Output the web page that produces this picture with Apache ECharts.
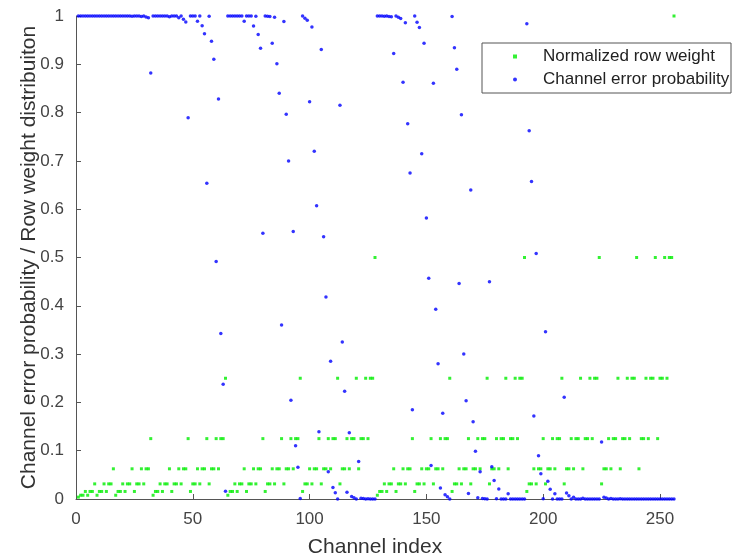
<!DOCTYPE html>
<html>
<head>
<meta charset="utf-8">
<script src="https://cdn.jsdelivr.net/npm/echarts@6/dist/echarts.min.js"></script>
<style>
html,body{margin:0;padding:0;background:#fff;}
#chart{width:732px;height:559px;}
</style>
</head>
<body>
<div id="chart"></div>
<script>
// Channel index (x values)
const channelIndex = [
  1,2,3,4,5,6,7,8,9,10,11,12,13,14,15,16,
  17,18,19,20,21,22,23,24,25,26,27,28,29,30,31,32,
  33,34,35,36,37,38,39,40,41,42,43,44,45,46,47,48,
  49,50,51,52,53,54,55,56,57,58,59,60,61,62,63,64,
  65,66,67,68,69,70,71,72,73,74,75,76,77,78,79,80,
  81,82,83,84,85,86,87,88,89,90,91,92,93,94,95,96,
  97,98,99,100,101,102,103,104,105,106,107,108,109,110,111,112,
  113,114,115,116,117,118,119,120,121,122,123,124,125,126,127,128,
  129,130,131,132,133,134,135,136,137,138,139,140,141,142,143,144,
  145,146,147,148,149,150,151,152,153,154,155,156,157,158,159,160,
  161,162,163,164,165,166,167,168,169,170,171,172,173,174,175,176,
  177,178,179,180,181,182,183,184,185,186,187,188,189,190,191,192,
  193,194,195,196,197,198,199,200,201,202,203,204,205,206,207,208,
  209,210,211,212,213,214,215,216,217,218,219,220,221,222,223,224,
  225,226,227,228,229,230,231,232,233,234,235,236,237,238,239,240,
  241,242,243,244,245,246,247,248,249,250,251,252,253,254,255,256
];

// Normalized row weight (green)
const rowWeight = [
  .0039,.0078,.0078,.0156,.0078,.0156,.0156,.0313,.0078,.0156,.0156,.0313,.0156,.0313,.0313,.0625,
  .0078,.0156,.0156,.0313,.0156,.0313,.0313,.0625,.0156,.0313,.0313,.0625,.0313,.0625,.0625,.125,
  .0078,.0156,.0156,.0313,.0156,.0313,.0313,.0625,.0156,.0313,.0313,.0625,.0313,.0625,.0625,.125,
  .0156,.0313,.0313,.0625,.0313,.0625,.0625,.125,.0313,.0625,.0625,.125,.0625,.125,.125,.25,
  .0078,.0156,.0156,.0313,.0156,.0313,.0313,.0625,.0156,.0313,.0313,.0625,.0313,.0625,.0625,.125,
  .0156,.0313,.0313,.0625,.0313,.0625,.0625,.125,.0313,.0625,.0625,.125,.0625,.125,.125,.25,
  .0156,.0313,.0313,.0625,.0313,.0625,.0625,.125,.0313,.0625,.0625,.125,.0625,.125,.125,.25,
  .0313,.0625,.0625,.125,.0625,.125,.125,.25,.0625,.125,.125,.25,.125,.25,.25,.5,
  .0078,.0156,.0156,.0313,.0156,.0313,.0313,.0625,.0156,.0313,.0313,.0625,.0313,.0625,.0625,.125,
  .0156,.0313,.0313,.0625,.0313,.0625,.0625,.125,.0313,.0625,.0625,.125,.0625,.125,.125,.25,
  .0156,.0313,.0313,.0625,.0313,.0625,.0625,.125,.0313,.0625,.0625,.125,.0625,.125,.125,.25,
  .0313,.0625,.0625,.125,.0625,.125,.125,.25,.0625,.125,.125,.25,.125,.25,.25,.5,
  .0156,.0313,.0313,.0625,.0313,.0625,.0625,.125,.0313,.0625,.0625,.125,.0625,.125,.125,.25,
  .0313,.0625,.0625,.125,.0625,.125,.125,.25,.0625,.125,.125,.25,.125,.25,.25,.5,
  .0313,.0625,.0625,.125,.0625,.125,.125,.25,.0625,.125,.125,.25,.125,.25,.25,.5,
  .0625,.125,.125,.25,.125,.25,.25,.5,.125,.25,.25,.5,.25,.5,.5,1
];

// Channel error probability (blue)
const errorProb = [
  1,1,1,1,1,1,1,1,1,1,1,1,1,1,1,0.9998,
  1,1,1,1,1,1,1,0.9995,1,1,1,0.999,1,0.9981,0.9963,0.8822,
  1,1,1,1,1,1,1,0.9983,1,1,1,0.9966,1,0.9934,0.9876,0.7895,
  1,1,1,0.9893,0.9999,0.9798,0.9633,0.6536,0.9993,0.9478,0.9107,0.4917,0.8281,0.3427,0.2375,0.0161,
  1,1,1,1,1,1,1,0.9893,1,0.9999,0.9999,0.9795,0.9996,0.9619,0.9334,0.5503,
  1,0.9996,0.9992,0.9438,0.9974,0.901,0.8401,0.3602,0.9885,0.7967,0.6996,0.2042,0.5539,0.1103,0.0657,0.0011,
  1,0.9955,0.9913,0.8225,0.9771,0.7202,0.6072,0.1393,0.9307,0.5429,0.4181,0.0563,0.2852,0.0239,0.0129,0,
  0.8151,0.3249,0.223,0.014,0.1371,0.005,0.0026,0,0.0774,0.0016,0.0008,0,0.0004,0,0,0,
  1,1,1,0.9996,1,0.9992,0.9984,0.9226,1,0.9974,0.995,0.863,0.986,0.777,0.6751,0.1849,
  1,0.9871,0.9761,0.7148,0.9437,0.5819,0.4571,0.0693,0.8607,0.3928,0.2798,0.0229,0.1775,0.0087,0.0045,0,
  0.9989,0.9343,0.8897,0.4461,0.7958,0.3004,0.2033,0.0115,0.6398,0.1599,0.099,0.0026,0.0562,0.0008,0.0004,0,
  0.4497,0.0666,0.0381,0.0004,0.0205,0.0001,0.0001,0,0.0107,0,0,0,0,0,0,0,
  0.9839,0.7625,0.6573,0.1719,0.5083,0.0893,0.0522,0.0007,0.3464,0.0367,0.0202,0.0001,0.0107,0,0,0,
  0.2105,0.0124,0.0066,0,0.0034,0,0,0,0.0017,0,0,0,0,0,0,0,
  0.1178,0.0037,0.0019,0,0.001,0,0,0,0.0005,0,0,0,0,0,0,0,
  0.0002,0,0,0,0,0,0,0,0,0,0,0,0,0,0,0
];

const xTicks = [0, 50, 100, 150, 200, 250];
const yTicks = [0, 0.1, 0.2, 0.3, 0.4, 0.5, 0.6, 0.7, 0.8, 0.9, 1];
const seriesNames = ['Normalized row weight', 'Channel error probability'];
const xTitle = 'Channel index';
const yTitle = 'Channel error probability / Row weight distribuiton';

const FONT = '"Liberation Sans", Arial, sans-serif';
const AXIS_COLOR = '#555';
const LABEL_COLOR = '#444';

const chart = echarts.init(document.getElementById('chart'), null, {renderer: 'canvas'});
chart.setOption({
  backgroundColor: '#fff',
  animation: false,
  grid: {left: 76, right: 58, top: 16, bottom: 60, containLabel: false, outerBoundsMode: 'none'},
  legend: {
    orient: 'vertical',
    left: 482,
    top: 43,
    padding: [4, 0, 4, 31],
    itemWidth: 4,
    itemHeight: 4,
    itemGap: 4,
    borderColor: '#555',
    borderWidth: 1,
    backgroundColor: '#fff',
    data: [
      {name: seriesNames[0], icon: 'rect'},
      {name: seriesNames[1], icon: 'circle'}
    ],
    textStyle: {
      fontFamily: FONT, fontSize: 17, color: '#222', lineHeight: 19,
      padding: [0, 0, 0, 21], width: 188
    }
  },
  xAxis: {
    type: 'value', min: 0, max: 256,
    name: xTitle, nameLocation: 'middle', nameGap: 38, nameMoveOverlap: false,
    nameTextStyle: {fontFamily: FONT, fontSize: 21, color: '#333'},
    splitLine: {show: false},
    axisLine: {show: true, onZero: false, lineStyle: {color: AXIS_COLOR, width: 1}},
    axisTick: {show: true, inside: true, length: 5, lineStyle: {color: AXIS_COLOR}, customValues: xTicks},
    axisLabel: {fontFamily: FONT, fontSize: 17, color: LABEL_COLOR, margin: 12, customValues: xTicks}
  },
  yAxis: {
    type: 'value', min: 0, max: 1, interval: 0.1,
    name: yTitle, nameLocation: 'middle', nameGap: 36, nameMoveOverlap: false,
    nameTextStyle: {fontFamily: FONT, fontSize: 21, color: '#333'},
    splitLine: {show: false},
    axisLine: {show: true, onZero: false, lineStyle: {color: AXIS_COLOR, width: 1}},
    axisTick: {show: true, inside: true, length: 5, lineStyle: {color: AXIS_COLOR}, customValues: yTicks},
    axisLabel: {fontFamily: FONT, fontSize: 17, color: LABEL_COLOR, margin: 12, customValues: yTicks}
  },
  series: [
    {
      name: seriesNames[0], type: 'scatter', symbol: 'rect', symbolSize: 3,
      itemStyle: {color: '#00ee00'},
      data: channelIndex.map((x, k) => [x, rowWeight[k]])
    },
    {
      name: seriesNames[1], type: 'scatter', symbol: 'circle', symbolSize: 3.5,
      itemStyle: {color: '#0000ff'},
      data: channelIndex.map((x, k) => [x, errorProb[k]])
    }
  ]
});
</script>
</body>
</html>
